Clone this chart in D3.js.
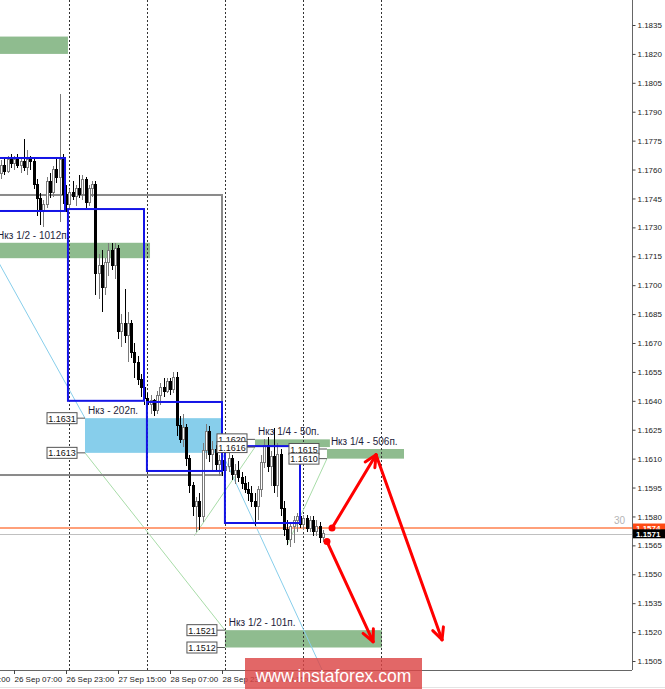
<!DOCTYPE html>
<html><head><meta charset="utf-8">
<script src="https://cdn.jsdelivr.net/npm/d3@7"></script>
<style>body{margin:0;background:#fff;overflow:hidden}svg{display:block}</style>
</head><body>
<svg id="c" width="665" height="689"></svg>
<script>
// ---- DATA (H1 candles, bar index 0 = 26 Sep 03:00) ----
const opens  = [1.1758,1.1762,1.1759,1.1765,1.1763,1.1765,1.1762,1.1764,1.1761,1.1765,
                1.1764,1.1752,1.1745,1.1738,1.1742,1.1754,1.1748,1.1760,1.1756,1.1765,
                1.1747,1.1742,1.1748,1.1746,1.1750,1.1747,1.1755,1.1743,1.1750,1.1752,
                1.1706,1.1710,1.1699,1.1712,1.1718,1.1710,1.1719,1.1676,1.1680,1.1674,
                1.1680,1.1665,1.1660,1.1651,1.1647,1.1641,1.1638,1.1640,1.1635,1.1643,
                1.1647,1.1645,1.1650,1.1646,1.1652,1.1627,1.1620,1.1626,1.1610,1.1596,
                1.1585,1.1588,1.1580,1.1614,1.1624,1.1612,1.1615,1.1607,1.1609,1.1604,
                1.1606,1.1610,1.1602,1.1604,1.1600,1.1597,1.1594,1.1592,1.1588,1.1585,
                1.1594,1.1608,1.1617,1.1606,1.1611,1.1596,1.1612,1.1584,1.1573,1.1568,
                1.1575,1.1578,1.1580,1.1576,1.1579,1.1574,1.1578,1.1572,1.1575,1.1569];
const highs  = [1.1765,1.1766,1.1767,1.1768,1.1767,1.1768,1.1766,1.1776,1.1770,1.1767,
                1.1766,1.1755,1.1748,1.1744,1.1756,1.1758,1.1762,1.1766,1.1799,1.1768,
                1.1752,1.1750,1.1754,1.1752,1.1757,1.1757,1.1756,1.1752,1.1754,1.1754,
                1.1716,1.1718,1.1714,1.1722,1.1722,1.1722,1.1721,1.1685,1.1698,1.1686,
                1.1682,1.1670,1.1663,1.1654,1.1650,1.1644,1.1643,1.1641,1.1645,1.1649,
                1.1652,1.1652,1.1652,1.1655,1.1655,1.1632,1.1633,1.1628,1.1612,1.1598,
                1.1590,1.1592,1.1618,1.1628,1.1627,1.1619,1.1617,1.1612,1.1613,1.1612,
                1.1613,1.1612,1.1607,1.1609,1.1603,1.1601,1.1598,1.1596,1.1592,1.1596,
                1.1612,1.1620,1.1621,1.1614,1.1626,1.1618,1.1615,1.1588,1.1578,1.1577,
                1.1580,1.1582,1.1584,1.1581,1.1581,1.1580,1.1580,1.1578,1.1577,1.1573];
const lows   = [1.1755,1.1757,1.1758,1.1761,1.1760,1.1761,1.1758,1.1759,1.1757,1.1760,
                1.1750,1.1736,1.1731,1.1730,1.1740,1.1745,1.1746,1.1753,1.1733,1.1742,
                1.1738,1.1739,1.1744,1.1741,1.1745,1.1744,1.1740,1.1741,1.1746,1.1695,
                1.1693,1.1686,1.1695,1.1705,1.1708,1.1703,1.1672,1.1668,1.1670,1.1660,
                1.1662,1.1652,1.1648,1.1642,1.1638,1.1636,1.1633,1.1632,1.1633,1.1638,
                1.1642,1.1644,1.1643,1.1644,1.1622,1.1618,1.1616,1.1606,1.1592,1.1580,
                1.1572,1.1573,1.1577,1.1610,1.1608,1.1604,1.1603,1.1601,1.1601,1.1600,
                1.1603,1.1599,1.1597,1.1598,1.1594,1.1592,1.1588,1.1585,1.1575,1.1578,
                1.1590,1.1605,1.1603,1.1596,1.1592,1.1590,1.1580,1.1570,1.1565,1.1564,
                1.1566,1.1572,1.1574,1.1573,1.1572,1.1572,1.1570,1.1570,1.1566,1.1567];
const closes = [1.1762,1.1759,1.1765,1.1763,1.1765,1.1762,1.1764,1.1761,1.1765,1.1764,
                1.1752,1.1745,1.1738,1.1742,1.1754,1.1748,1.1760,1.1756,1.1765,1.1747,
                1.1742,1.1748,1.1746,1.1750,1.1747,1.1755,1.1743,1.1750,1.1752,1.1706,
                1.1710,1.1699,1.1712,1.1718,1.1710,1.1719,1.1676,1.1680,1.1674,1.1680,
                1.1665,1.1660,1.1651,1.1647,1.1641,1.1638,1.1640,1.1635,1.1643,1.1647,
                1.1645,1.1650,1.1646,1.1652,1.1627,1.1620,1.1626,1.1610,1.1596,1.1585,
                1.1588,1.1580,1.1614,1.1624,1.1612,1.1615,1.1607,1.1609,1.1604,1.1606,
                1.1610,1.1602,1.1604,1.1600,1.1597,1.1594,1.1592,1.1588,1.1585,1.1594,
                1.1608,1.1617,1.1606,1.1611,1.1596,1.1612,1.1584,1.1573,1.1568,1.1575,
                1.1578,1.1580,1.1576,1.1579,1.1574,1.1578,1.1572,1.1575,1.1569,1.1571];

const priceTicks = [1.1835,1.1820,1.1805,1.1790,1.1775,1.1760,1.1745,1.1730,1.1715,1.1700,1.1685,1.1670,
                    1.1655,1.1640,1.1625,1.1610,1.1595,1.1580,1.1565,1.1550,1.1535,1.1520,1.1505];
const timeLabels    = ["25 Sep 15:00","26 Sep 07:00","26 Sep 23:00","27 Sep 15:00","28 Sep 07:00","28 Sep 23:00","1 Oct 15:00"];
const timeLabelBars = [-12, 4, 20, 36, 52, 68, 84];
const daySeparatorBars = [21, 45, 69, 93, 117];

// daily range boxes [startBar, endBar, high, low]
const blueBoxes = [[-3, 19.7, 1.1766, 1.17385],[20.6, 44, 1.17395, 1.1640],[44.9, 68, 1.16394, 1.16036],[68.9, 92, 1.16165, 1.15766]];
const grayBox = [-6, 68, 1.17468, 1.16015];

// zones [startBar, endBar, top, bottom, colorKey, label, labelBar, showPriceTags]
const zoneStart  = [-6, -6, 25.85, 78.15, 100.3, 68.9];
const zoneEnd    = [20.6, 45.85, 68, 101.2, 124, 117.2];
const zoneTop    = [1.1829, 1.1722, 1.1631, 1.1620, 1.1615, 1.1521];
const zoneBottom = [1.1820, 1.1714, 1.1613, 1.1616, 1.1610, 1.1512];
const zoneColor  = ["green","green","blue","green","green","green"];
const zoneLabel  = ["", "Нкз 1/2 - 1012п.", "Нкз - 202п.", "Нкз 1/4 - 50п.", "Нкз 1/4 - 506п.", "Нкз 1/2 - 101п."];
const zoneLabelBar = [0, -1.2, 26.8, 79.1, 101.5, 70.1];
const zoneTags   = [false, false, true, true, true, true];

// thin trend lines [bar1, price1, bar2, price2, color]
const trendLines = [[-9.5, 1.17385, 25.85, 1.1631, "lb"],[68, 1.1613, 100, 1.1496, "lb"],
                    [25.85, 1.1613, 68.9, 1.1521, "lg"],[59.5, 1.1570, 78.15, 1.1616, "lg"],
                    [88, 1.1565, 100.3, 1.1610, "lg"]];

// forecast arrows
const arrowFrom = [[101.85, 1.1574],[115.4, 1.1612],[100.3, 1.1567]];
const arrowTo   = [[115.4, 1.1612],[135.7, 1.1516],[114.5, 1.1515]];
const arrowDots = [[101.85, 1.1574],[100.3, 1.1567]];

const askPrice = 1.1574, bidPrice = 1.1571;

// ---- DRAW ----
const W = 665, H = 689, plotR = 632, plotB = 670;
const svg = d3.select("#c");
const x = d3.scaleLinear().domain([0, 100]).range([1, 326]);
const y = d3.scaleLinear().domain([1.1505, 1.1835]).range([661, 25]);
const font = "'Liberation Sans', Arial, sans-serif";

svg.append("rect").attr("width", W).attr("height", H).attr("fill", "#fff");
svg.append("defs").append("clipPath").attr("id","plot").append("rect")
  .attr("x",0).attr("y",0).attr("width",plotR).attr("height",plotB);
const g = svg.append("g").attr("clip-path","url(#plot)");

const colors = {green:"#8fbc8f", blue:"#87ceeb", lb:"#87ceeb", lg:"#a8dca8"};

// zones
zoneStart.forEach((s,k)=>{
  g.append("rect").attr("x", x(s)).attr("y", y(zoneTop[k]))
    .attr("width", x(zoneEnd[k]) - x(s)).attr("height", y(zoneBottom[k]) - y(zoneTop[k]))
    .attr("fill", colors[zoneColor[k]]);
});

// day separators
daySeparatorBars.forEach(b=>{
  g.append("line").attr("x1", Math.round(x(b))+0.5).attr("x2", Math.round(x(b))+0.5)
    .attr("y1",0).attr("y2",plotB).attr("stroke","#333").attr("stroke-dasharray","2,2").attr("stroke-width",1);
});

// thin trend lines
trendLines.forEach(t=>{
  g.append("line").attr("x1",x(t[0])).attr("y1",y(t[1])).attr("x2",x(t[2])).attr("y2",y(t[3]))
    .attr("stroke", colors[t[4]]).attr("stroke-width",1);
});

// gray box
g.append("rect").attr("x", x(grayBox[0])).attr("y", y(grayBox[2]))
  .attr("width", x(grayBox[1]) - x(grayBox[0])).attr("height", y(grayBox[3]) - y(grayBox[2]))
  .attr("fill","none").attr("stroke","#8a8a8a").attr("stroke-width",2);

// price lines
g.append("line").attr("x1",0).attr("x2",plotR).attr("y1",y(askPrice)).attr("y2",y(askPrice))
  .attr("stroke","#ffa07a").attr("stroke-width",2);
g.append("line").attr("x1",0).attr("x2",plotR).attr("y1",Math.round(y(bidPrice))+0.5).attr("y2",Math.round(y(bidPrice))+0.5)
  .attr("stroke","#c0c0c0").attr("stroke-width",1);

// candles
const idx = d3.range(opens.length);
const cg = g.append("g").attr("shape-rendering","crispEdges");
idx.forEach(i=>{
  const bull = closes[i] >= opens[i];
  const cx = Math.round(x(i));
  cg.append("line").attr("x1",cx+0.5).attr("x2",cx+0.5).attr("y1",y(highs[i])).attr("y2",y(lows[i]))
    .attr("stroke", bull ? "#7a7a7a" : "#000").attr("stroke-width",1);
  const top = y(Math.max(opens[i],closes[i])), bot = y(Math.min(opens[i],closes[i]));
  cg.append("rect").attr("x", cx-0.5).attr("y", top).attr("width", 2).attr("height", Math.max(1, bot-top))
    .attr("fill", bull ? "#fff" : "#000").attr("stroke", bull ? "#7a7a7a" : "#000").attr("stroke-width",1);
});

// blue daily boxes
blueBoxes.forEach(b=>{
  g.append("rect").attr("x", x(b[0])).attr("y", y(b[2]))
    .attr("width", x(b[1]) - x(b[0])).attr("height", y(b[3]) - y(b[2]))
    .attr("fill","none").attr("stroke","#1414e6").attr("stroke-width",2);
});

// zone texts and price tags
zoneStart.forEach((s,k)=>{
  if (zoneLabel[k]) {
    g.append("text").attr("x", x(zoneLabelBar[k])).attr("y", y(zoneTop[k]) - 4)
      .attr("font-family", font).attr("font-size", 10).attr("fill","#1e1e3c").text(zoneLabel[k]);
  }
  if (zoneTags[k]) {
    const zx = x(s);
    [zoneTop[k], zoneBottom[k]].forEach(p=>{
      const py = y(p);
      g.append("line").attr("x1", zx-8).attr("x2", zx).attr("y1", py).attr("y2", py).attr("stroke","#555").attr("stroke-width",1);
      g.append("rect").attr("x", zx-38).attr("y", py-5.5).attr("width",30).attr("height",11)
        .attr("fill","#fff").attr("stroke","#555").attr("stroke-width",1);
      g.append("text").attr("x", zx-23).attr("y", py+3.5).attr("text-anchor","middle")
        .attr("font-family", font).attr("font-size", 9).attr("fill","#111").text(p.toFixed(4));
    });
  }
});

// red arrows
const ag = g.append("g");
arrowFrom.forEach((f,k)=>{
  const x1=x(f[0]), y1=y(f[1]), x2=x(arrowTo[k][0]), y2=y(arrowTo[k][1]);
  ag.append("line").attr("x1",x1).attr("y1",y1).attr("x2",x2).attr("y2",y2)
    .attr("stroke","#ff0000").attr("stroke-width",3).attr("stroke-linecap","round");
  const ang = Math.atan2(y2-y1, x2-x1), L = 13, spread = 0.45;
  [ang+Math.PI-spread, ang+Math.PI+spread].forEach(a=>{
    ag.append("line").attr("x1",x2).attr("y1",y2).attr("x2",x2+L*Math.cos(a)).attr("y2",y2+L*Math.sin(a))
      .attr("stroke","#ff0000").attr("stroke-width",3).attr("stroke-linecap","round");
  });
});
arrowDots.forEach(d=>{
  ag.append("circle").attr("cx",x(d[0])).attr("cy",y(d[1])).attr("r",3.5).attr("fill","#ff0000");
});

// "30" spread text
g.append("text").attr("x", 625).attr("y", y(askPrice)-4).attr("text-anchor","end")
  .attr("font-family", font).attr("font-size", 10).attr("fill","#b4b4b4").text("30");

// axes frame
svg.append("line").attr("x1",plotR+0.5).attr("x2",plotR+0.5).attr("y1",0).attr("y2",plotB)
  .attr("stroke","#666").attr("stroke-width",1);
svg.append("line").attr("x1",0).attr("x2",plotR).attr("y1",plotB+0.5).attr("y2",plotB+0.5)
  .attr("stroke","#666").attr("stroke-width",1);

// right price axis
const yAxis = d3.axisRight(y).tickValues(priceTicks).tickSize(3).tickPadding(2).tickFormat(d3.format(".4f"));
const ya = svg.append("g").attr("transform",`translate(${plotR+0.5},0)`).call(yAxis);
ya.select(".domain").remove();
ya.selectAll("text").attr("font-family", font).attr("font-size", 8).attr("fill","#222");
ya.selectAll("line").attr("stroke","#444");

// bid/ask tags
[[askPrice,"#ff4a14"],[bidPrice,"#000"]].forEach(a=>{
  const py = y(a[0]);
  svg.append("rect").attr("x", plotR+1).attr("y", py-4.5).attr("width", 33).attr("height", 9).attr("fill", a[1]);
  svg.append("text").attr("x", plotR+4).attr("y", py+3).attr("font-family", font).attr("font-size", 8)
    .attr("font-weight","bold").attr("fill","#fff").text(a[0].toFixed(4));
});

// bottom time axis
const xa = svg.append("g");
timeLabelBars.forEach((b,k)=>{
  const tx = Math.round(x(b))+0.5;
  xa.append("line").attr("x1",tx).attr("x2",tx).attr("y1",plotB).attr("y2",plotB+4).attr("stroke","#444");
  xa.append("text").attr("x", tx).attr("y", plotB+12).attr("font-family", font).attr("font-size", 8)
    .attr("fill","#222").text(timeLabels[k]);
});
svg.append("line").attr("x1",0).attr("x2",W).attr("y1",687.5).attr("y2",687.5).attr("stroke","#e4e4e4");

// watermark
svg.append("rect").attr("x",245).attr("y",658).attr("width",177).attr("height",31)
  .attr("fill","#dc4646").attr("opacity",0.82);
svg.append("text").attr("x",333.5).attr("y",682).attr("text-anchor","middle")
  .attr("font-family", font).attr("font-size", 17.5).attr("fill","#fff").text("www.instaforex.com");
</script>
</body></html>
